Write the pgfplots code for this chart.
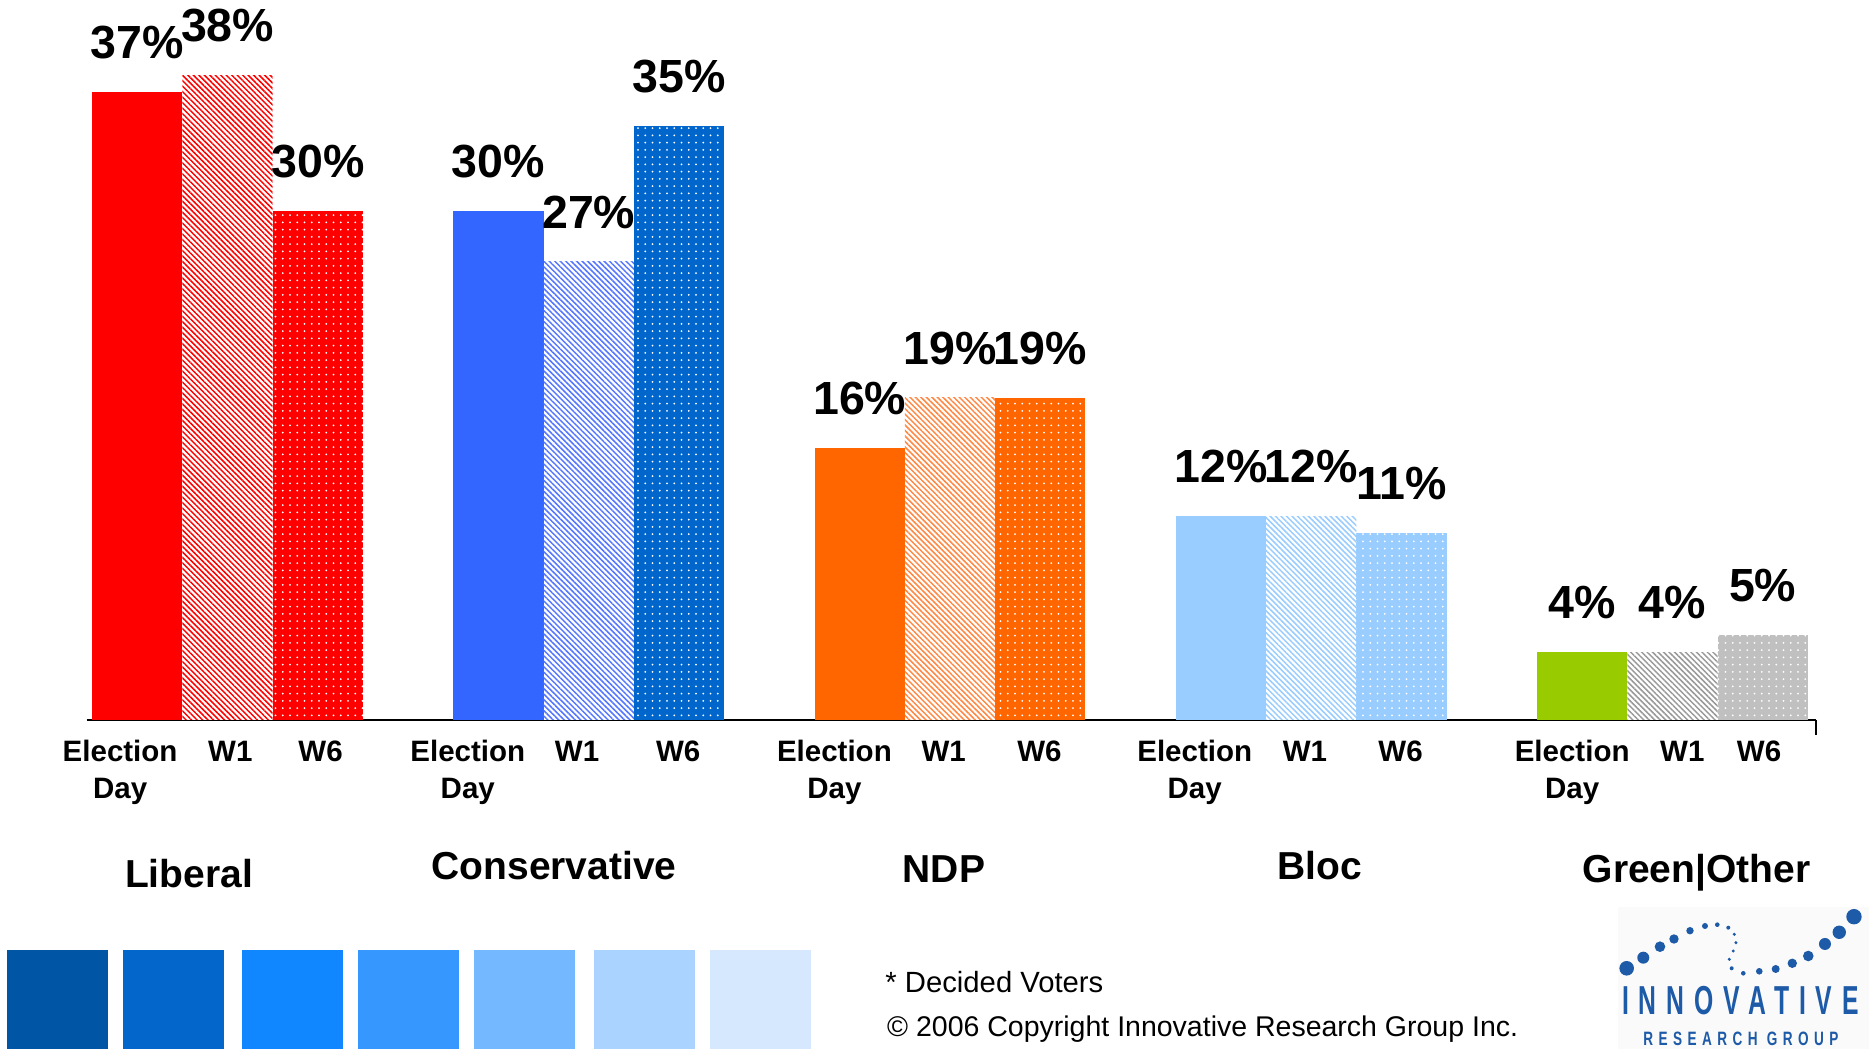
\documentclass[border=0pt]{standalone}
\usepackage{fontspec}
\setmainfont{Liberation Sans}
\newfontfamily\logofont[LetterSpace=40]{Liberation Sans}
\usepackage{pgfplots}
\pgfplotsset{compat=1.18}
\usetikzlibrary{patterns.meta}
\definecolor{libred}{HTML}{FF0000}
\definecolor{conblue}{HTML}{3366FF}
\definecolor{conblueB}{HTML}{5577FF}
\definecolor{conblueC}{HTML}{0066CC}
\definecolor{ndpor}{HTML}{FF6600}
\definecolor{ndporB}{HTML}{FF8844}
\definecolor{bloc}{HTML}{99CCFF}
\definecolor{grn}{HTML}{99CC00}
\definecolor{gryB}{HTML}{999999}
\definecolor{gryC}{HTML}{C0C0C0}
\definecolor{sqA}{HTML}{0055A5}
\definecolor{sqB}{HTML}{0366CA}
\definecolor{sqC}{HTML}{1087FF}
\definecolor{sqD}{HTML}{3698FF}
\definecolor{sqE}{HTML}{74B8FF}
\definecolor{sqF}{HTML}{AAD4FF}
\definecolor{sqG}{HTML}{D5E8FD}
\definecolor{logoblue}{HTML}{1D5AA7}
\newcommand{\wl}[1]{\vphantom{Election}#1}
\tikzset{
  wone/.style={draw=none, fill=white, postaction={pattern={Lines[angle=-45,distance=1.55pt,line width=0.6pt]}, pattern color=#1}},
  wsix/.style={draw=none, fill=#1, postaction={pattern={Dots[distance=2.9pt,radius=0.4pt]}, pattern color=white}},
  ed/.style={draw=none, fill=#1}
}
\begin{document}
\begin{tikzpicture}
\useasboundingbox (0,0) rectangle (747.6pt,419.6pt);
\begin{axis}[
  at={(34.68pt,131.6pt)}, anchor=south west,
  scale only axis, width=691.72pt, height=271.52pt,
  xmin=-0.56, xmax=18.59, ymin=0, ymax=40,
  clip=false,
  hide y axis,
  axis x line*=bottom,
  x axis line style={line width=1pt, black},
  xtick={-0.19,1.03,2.03,3.66,4.87,5.99,7.72,8.93,9.99,11.71,12.93,13.99,15.89,17.11,17.96},
  xticklabels={{Election\\Day},\wl{W1},\wl{W6},{Election\\Day},\wl{W1},\wl{W6},{Election\\Day},\wl{W1},\wl{W6},{Election\\Day},\wl{W1},\wl{W6},{Election\\Day},\wl{W1},\wl{W6}},
  major tick length=0pt,
  xticklabel style={font=\bfseries\fontsize{11.8}{14.8}\selectfont, align=center, anchor=north, inner sep=0pt, yshift=-8pt},
  ybar, bar width=36.12pt, bar shift=0pt,
  nodes near coords={\pgfmathprintnumber{\pgfplotspointmeta}\%},
  every node near coord/.append style={font=\bfseries\fontsize{18.6}{20}\selectfont, inner sep=0pt, text depth=0pt, yshift=13.2pt, black},
  /pgf/number format/assume math mode=true,
]
% Liberal
\addplot[ed=libred] coordinates {(0,37)};
\addplot[wone=libred] coordinates {(1,38)};
\addplot[wsix=libred] coordinates {(2,30)};
% Conservative
\addplot[ed=conblue] coordinates {(4,30)};
\addplot[wone=conblueB] coordinates {(5,27)};
\addplot[wsix=conblueC] coordinates {(6,35)};
% NDP
\addplot[ed=ndpor] coordinates {(8,16)};
\addplot[wone=ndporB] coordinates {(9,19)};
\addplot[wsix=ndpor] coordinates {(10,19)};
% Bloc
\addplot[ed=bloc] coordinates {(12,12)};
\addplot[wone=bloc] coordinates {(13,12)};
\addplot[wsix=bloc] coordinates {(14,11)};
% Green|Other
\addplot[ed=grn] coordinates {(16,4)};
\addplot[wone=gryB] coordinates {(17,4)};
\addplot[wsix=gryC] coordinates {(18,5)};
\draw[line width=1pt] (axis cs:18.59,0) -- ([yshift=-6pt]axis cs:18.59,0);
\end{axis}
\begin{scope}[x=0.4pt,y=0.4pt]
  % group names
  \node[anchor=base, font=\bfseries\fontsize{15.6}{18}\selectfont, inner sep=0pt] at (189,161) {Liberal};
  \node[anchor=base, font=\bfseries\fontsize{15.6}{18}\selectfont, inner sep=0pt] at (554,169) {Conservative};
  \node[anchor=base, font=\bfseries\fontsize{15.6}{18}\selectfont, inner sep=0pt] at (944,166) {NDP};
  \node[anchor=base, font=\bfseries\fontsize{15.6}{18}\selectfont, inner sep=0pt] at (1320,169) {Bloc};
  \node[anchor=base, font=\bfseries\fontsize{15.6}{18}\selectfont, inner sep=0pt] at (1696.5,166) {Green|Other};
  % squares
  \fill[sqA] (7,0) rectangle (108,99);
  \fill[sqB] (123,0) rectangle (224,99);
  \fill[sqC] (242,0) rectangle (343,99);
  \fill[sqD] (358,0) rectangle (459,99);
  \fill[sqE] (474,0) rectangle (575,99);
  \fill[sqF] (594,0) rectangle (695,99);
  \fill[sqG] (710,0) rectangle (811,99);
  % footnotes
  \node[anchor=base west, inner sep=0pt, font=\fontsize{11.7}{13}\selectfont] at (885,56) {* Decided Voters};
  \node[anchor=base west, inner sep=0pt, font=\fontsize{11.4}{13}\selectfont] at (886.7,12.3) {\textcopyright{} 2006 Copyright Innovative Research Group Inc.};
  % logo
  \fill[black!2] (1618,0) rectangle (1869,142);
  \foreach \px/\py/\r in {1626.7/968.3/7.3, 1643.3/957.7/6, 1660/946.7/5.3, 1674/939/4.7, 1690/930.7/3.7, 1705/926/3, 1717.3/924.7/2.3, 1728.3/927.7/2, 1734.3/934.3/1.7, 1736/942.7/1.7, 1733.3/951/1.7, 1729.3/959.3/1.7, 1731.7/968.3/2, 1743.3/973.3/2.3, 1759.3/971.3/3.3, 1775.7/969/4, 1792.3/963.3/4.7, 1808.3/956/5.3, 1825/944/6, 1839.3/932.3/6.7, 1854/916.7/7.7}
    \fill[logoblue] (\px,1049-\py) circle (\r);
  \node[anchor=south west, inner sep=0pt, text=logoblue] at (1621.7,34) {\resizebox{94.6pt}{11.3pt}{\logofont\bfseries INNOVATIVE}};
  \node[anchor=south west, inner sep=0pt, text=logoblue] at (1643,3) {\resizebox{78pt}{5.4pt}{\logofont\bfseries RESEARCH GROUP}};
\end{scope}
\end{tikzpicture}
\end{document}
